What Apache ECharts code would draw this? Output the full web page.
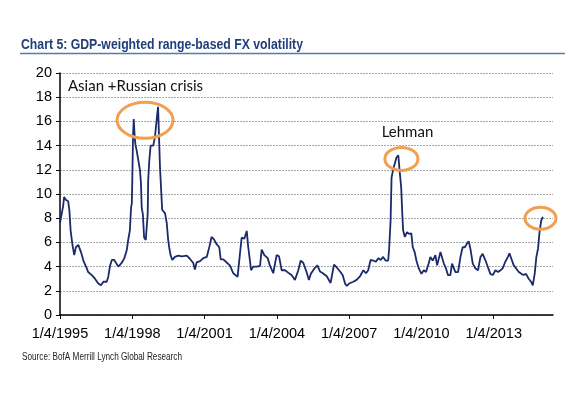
<!DOCTYPE html>
<html>
<head>
<meta charset="utf-8">
<script src="https://cdn.jsdelivr.net/npm/echarts@6/dist/echarts.min.js"></script>
<style>
  html, body { margin: 0; padding: 0; background: #fff; }
  #chart { width: 569px; height: 398px; }
</style>
</head>
<body>
<div id="chart"></div>
<script>
// decimal years
const years = [
  1995.00, 1995.04, 1995.08, 1995.13, 1995.17, 1995.25, 1995.34, 1995.39, 1995.44, 1995.51,
  1995.59, 1995.66, 1995.76, 1995.87, 1995.97, 1996.11, 1996.17, 1996.32, 1996.45, 1996.59,
  1996.70, 1996.80, 1996.94, 1997.00, 1997.07, 1997.15, 1997.25, 1997.32, 1997.42, 1997.49,
  1997.56, 1997.67, 1997.77, 1997.83, 1997.90, 1997.95, 1997.98, 1998.00, 1998.03, 1998.06,
  1998.10, 1998.13, 1998.18, 1998.25, 1998.32, 1998.36, 1998.39, 1998.44, 1998.49, 1998.56,
  1998.60, 1998.64, 1998.66, 1998.70, 1998.76, 1998.87, 1998.94, 1999.02, 1999.07, 1999.15,
  1999.24, 1999.36, 1999.43, 1999.49, 1999.53, 1999.59, 1999.66, 1999.77, 1999.91, 2000.05,
  2000.12, 2000.26, 2000.39, 2000.53, 2000.60, 2000.67, 2000.81, 2000.95, 2001.09, 2001.20,
  2001.29, 2001.39, 2001.50, 2001.61, 2001.67, 2001.78, 2001.94, 2002.05, 2002.12, 2002.19,
  2002.26, 2002.37, 2002.47, 2002.54, 2002.65, 2002.75, 2002.81, 2002.93, 2003.02, 2003.16,
  2003.30, 2003.37, 2003.48, 2003.62, 2003.71, 2003.85, 2003.99, 2004.09, 2004.20, 2004.34,
  2004.47, 2004.61, 2004.75, 2004.79, 2004.89, 2004.99, 2005.10, 2005.24, 2005.33, 2005.41,
  2005.58, 2005.68, 2005.79, 2005.91, 2006.07, 2006.23, 2006.37, 2006.48, 2006.62, 2006.73,
  2006.83, 2006.90, 2007.00, 2007.17, 2007.31, 2007.45, 2007.59, 2007.70, 2007.79, 2007.89,
  2008.00, 2008.11, 2008.21, 2008.31, 2008.41, 2008.51, 2008.62, 2008.66, 2008.72, 2008.76,
  2008.83, 2008.90, 2008.96, 2009.04, 2009.10, 2009.16, 2009.20, 2009.24, 2009.31, 2009.40,
  2009.49, 2009.58, 2009.64, 2009.72, 2009.79, 2009.89, 2010.00, 2010.10, 2010.19, 2010.30,
  2010.37, 2010.47, 2010.58, 2010.65, 2010.72, 2010.79, 2010.86, 2010.93, 2011.02, 2011.10,
  2011.20, 2011.27, 2011.34, 2011.41, 2011.52, 2011.62, 2011.71, 2011.80, 2011.89, 2011.96,
  2012.03, 2012.13, 2012.24, 2012.35, 2012.45, 2012.54, 2012.66, 2012.76, 2012.86, 2012.96,
  2013.07, 2013.18, 2013.28, 2013.37, 2013.48, 2013.59, 2013.65, 2013.73, 2013.83, 2013.93,
  2014.04, 2014.15, 2014.24, 2014.34, 2014.45, 2014.55, 2014.62, 2014.70, 2014.77, 2014.84,
  2014.90, 2014.97, 2015.04
];

const vol = [
  7.6, 7.5, 7.7, 9.0, 9.75, 9.5, 9.4, 8.65, 7.0, 5.9,
  4.95, 5.6, 5.8, 5.2, 4.5, 3.85, 3.55, 3.3, 3.0, 2.6,
  2.45, 2.75, 2.75, 3.15, 4.0, 4.55, 4.55, 4.4, 4.0, 3.85,
  4.3, 4.7, 5.35, 6.2, 7.0, 8.9, 9.2, 11.1, 14.7, 16.2,
  14.7, 14.1, 13.6, 12.8, 11.95, 10.9, 8.9, 8.3, 6.4, 6.2,
  6.05, 8.4, 11.1, 12.6, 14.0, 14.0, 14.7, 16.3, 17.2, 12.2,
  8.7, 8.4, 7.6, 6.2, 5.6, 4.95, 4.55, 4.8, 4.9, 4.85,
  4.75, 4.9, 4.65, 4.3, 3.75, 4.35, 4.45, 4.7, 4.8, 5.65,
  6.45, 6.25, 5.85, 5.6, 4.6, 4.6, 4.3, 4.1, 4.0, 3.45,
  3.3, 3.15, 5.1, 6.4, 6.3, 6.95, 5.65, 3.7, 4.0, 4.0,
  4.05, 5.4, 4.95, 4.7, 4.1, 3.45, 4.95, 4.85, 3.7, 3.7,
  3.5, 3.3, 2.9, 2.75, 3.7, 4.5, 4.3, 3.5, 2.9, 3.4,
  3.9, 4.1, 3.6, 3.45, 3.2, 2.65, 4.15, 3.95, 3.6, 3.3,
  2.6, 2.4, 2.6, 2.75, 2.9, 3.2, 3.7, 3.45, 3.7, 4.55,
  4.5, 4.4, 4.7, 4.55, 4.8, 4.5, 4.5, 5.5, 7.8, 11.35,
  12.05, 12.2, 13.0, 13.2, 11.8, 10.55, 8.6, 7.0, 6.45, 6.85,
  6.7, 6.75, 5.6, 5.2, 4.5, 3.85, 3.4, 3.7, 3.55, 4.25,
  4.8, 4.5, 4.95, 4.1, 4.25, 5.2, 5.35, 4.25, 3.85, 3.3,
  3.3, 4.25, 4.1, 3.55, 3.55, 4.8, 5.6, 5.6, 5.9, 6.1,
  5.5, 4.25, 3.85, 3.7, 4.8, 5.05, 4.5, 3.95, 3.4, 3.3,
  3.7, 3.55, 3.7, 3.85, 4.4, 4.8, 5.1, 5.05, 4.1, 3.85,
  3.55, 3.4, 3.3, 3.4, 3.0, 2.75, 2.45, 3.4, 4.8, 5.5,
  6.85, 7.8, 8.1
];

const tickYears = [1995, 1998, 2001, 2004, 2007, 2010, 2013];

// annotations: [year, value] anchors
const notes = [
  { text: 'Asian +Russian crisis', at: [1995.33, 18.95] },
  { text: 'Lehman', at: [2008.35, 15.1] }
];
const rings = [
  { at: [1998.53, 16.1], rx: 28, ry: 18 },
  { at: [2009.17, 12.9], rx: 16.5, ry: 11.5 },
  { at: [2014.94, 8.0], rx: 15.5, ry: 11 }
];

const titleText = 'Chart 5: GDP-weighted range-based FX volatility';
const sourceText = 'Source: BofA Merrill Lynch Global Research';

// squeeze text to a target width (no narrow font installed)
function squeeze(text, font, width) {
  const ctx = document.createElement('canvas').getContext('2d');
  ctx.font = font;
  return width / ctx.measureText(text).width;
}

const chart = echarts.init(document.getElementById('chart'));
const seriesData = years.map((y, i) => [y, vol[i]]);

chart.setOption({
  animation: false,
  grid: { left: 60, right: 16, top: 73, bottom: 83 },
  xAxis: {
    type: 'value',
    min: 1995,
    max: 2015.46,
    interval: 3,
    axisLine: { lineStyle: { color: '#000', width: 1.5 } },
    axisTick: { show: true, length: 4, customValues: tickYears, lineStyle: { color: '#000' } },
    axisLabel: {
      customValues: tickYears,
      color: '#000',
      fontSize: 14.5,
      fontFamily: '"Liberation Sans", Arial',
      margin: 11,
      formatter: (v) => '1/4/' + v
    },
    splitLine: { show: false }
  },
  yAxis: {
    type: 'value',
    min: 0,
    max: 20,
    interval: 2,
    axisLine: { show: true, lineStyle: { color: '#000', width: 1.5 } },
    axisTick: { show: true, length: 4, lineStyle: { color: '#000' } },
    axisLabel: {
      color: '#000',
      fontSize: 14.5,
      fontFamily: '"Liberation Sans", Arial',
      margin: 8
    },
    splitLine: { lineStyle: { color: '#a8a8a8', type: [2, 1], width: 1 } }
  },
  series: [
    {
      type: 'line',
      data: seriesData,
      showSymbol: false,
      lineStyle: { color: '#1b2a6b', width: 1.8 },
      z: 3
    }
  ]
});

const titleFont = 'bold 15.5px "Liberation Sans", Arial';
const sourceFont = '10.5px "Liberation Sans", Arial';

const graphics = [
  {
    type: 'text',
    x: 21,
    y: 45,
    scaleX: squeeze(titleText, titleFont, 282),
    style: {
      text: titleText,
      font: titleFont,
      fill: '#1f3f7c',
      textVerticalAlign: 'middle'
    }
  },
  {
    type: 'line',
    shape: { x1: 20, y1: 53.5, x2: 565, y2: 53.5 },
    style: { stroke: '#5a78ad', lineWidth: 1.5 }
  },
  {
    type: 'text',
    x: 22,
    y: 357,
    scaleX: squeeze(sourceText, sourceFont, 160),
    style: {
      text: sourceText,
      font: sourceFont,
      fill: '#222',
      textVerticalAlign: 'middle'
    }
  }
];
// annotations placed from data coordinates
notes.forEach((n) => {
  const p = chart.convertToPixel({ gridIndex: 0 }, n.at);
  graphics.push({
    type: 'text',
    x: p[0],
    y: p[1],
    style: {
      text: n.text,
      font: '15px Lato, "Open Sans", sans-serif',
      fill: '#111',
      textVerticalAlign: 'middle'
    },
    z: 10
  });
});
rings.forEach((r) => {
  const p = chart.convertToPixel({ gridIndex: 0 }, r.at);
  graphics.push({
    type: 'ellipse',
    shape: { cx: p[0], cy: p[1], rx: r.rx, ry: r.ry },
    style: { fill: 'none', stroke: '#f0a050', lineWidth: 3 },
    z: 10
  });
});
chart.setOption({ graphic: graphics });
</script>
</body>
</html>
